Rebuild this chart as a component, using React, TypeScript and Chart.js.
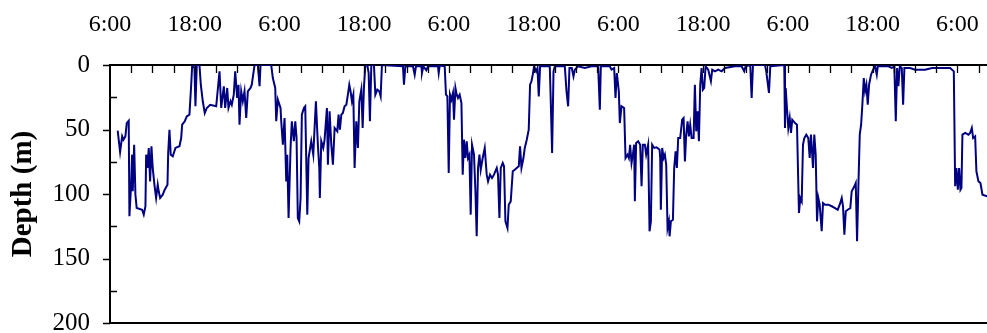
import React, { useEffect, useRef } from "react";
import { Chart, registerables } from "chart.js";

Chart.register(...registerables);

// elapsed hours since 6:00 on day 1
const timeHours: number[] = [
  1.09, 1.43, 1.72, 1.90, 2.18, 2.37, 2.65, 2.75, 2.99, 3.13,
  3.22, 3.42, 3.60, 3.78, 4.55, 4.78, 5.02, 5.12, 5.30, 5.49,
  5.68, 5.87, 6.05, 6.29, 6.53, 6.76, 6.90, 7.10, 7.47, 7.75,
  8.14, 8.24, 8.42, 8.60, 8.89, 9.27, 9.84, 10.08, 10.22, 10.59,
  10.87, 11.25, 11.50, 11.64, 11.96, 12.10, 12.29, 12.67, 12.86, 13.14,
  13.42, 13.71, 14.19, 15.04,
  15.51, 15.75, 16.12, 16.31, 16.60, 16.78, 17.07, 17.25, 17.53, 17.73,
  18.01, 18.20, 18.34, 18.58, 18.81, 19.05, 19.29, 19.52, 19.90, 20.08,
  20.28, 20.47, 20.94, 21.18, 21.32, 22.83, 23.06, 23.40, 23.54, 23.77,
  24.15, 24.25, 24.48, 24.72, 24.96, 25.10, 25.29, 25.57, 25.75, 26.04,
  26.24, 26.42, 26.60, 26.80, 26.99, 27.17, 27.46, 27.65, 27.94, 28.12,
  28.50, 28.79, 29.16, 29.44, 29.64, 29.72, 29.92, 30.20, 30.39,
  30.72, 30.86, 31.10, 31.34, 31.57, 31.81, 32.19, 32.37, 32.56, 32.76,
  32.98, 33.22, 33.47, 33.69, 33.89, 34.07, 34.26, 34.46, 34.64, 34.88,
  35.11, 35.31, 35.59, 35.78, 35.96, 36.16, 36.44, 36.63, 36.81, 37.01,
  37.38, 37.58, 37.86, 38.14, 38.33, 38.51, 41.49, 41.63, 41.83, 42.91,
  43.15, 43.33, 44.10, 44.18, 44.38, 44.80, 45.03, 46.45, 46.55, 46.69,
  47.40, 47.58, 47.78, 47.97, 48.15, 48.35, 48.57, 48.72, 48.92, 49.10,
  49.28, 49.52, 49.77, 49.95, 50.13, 50.33, 50.52, 50.70, 50.90, 51.08,
  51.27, 51.55, 51.75, 51.93, 52.12, 52.32, 52.50, 52.78, 53.07, 53.35,
  53.54, 53.82, 54.10, 54.38, 54.77, 54.95, 55.15, 55.34, 55.62, 55.80,
  56.00, 56.29, 56.47, 56.75, 57.04, 57.32, 57.60, 57.89, 58.07, 58.27,
  58.55, 58.74, 59.02, 59.30, 59.49, 59.69, 59.87, 60.06, 60.34, 60.54,
  60.72, 60.91, 62.28, 62.42, 62.61, 62.81, 62.99, 64.41, 64.65, 64.88,
  65.07, 65.40, 65.64, 65.83, 66.29, 67.24, 68.19, 69.13, 69.37, 69.51,
  70.78, 71.03, 71.40, 71.59, 71.78, 72.06, 72.20, 72.44, 72.81, 73.01,
  73.29, 73.48, 73.66, 73.86, 74.05, 74.23, 74.33, 74.51, 74.80, 75.08,
  75.28, 75.46, 75.75, 75.93, 76.21, 76.41, 76.60, 76.78, 77.07, 77.40, 77.83,
  77.92, 78.01, 78.20, 78.40, 78.58, 78.77, 78.96, 79.15, 79.25, 79.43,
  79.72, 79.90, 80.10, 80.28, 80.47, 80.75, 81.03, 81.23, 81.42, 81.60,
  81.80, 81.98, 82.17, 82.37, 82.65, 82.83, 83.02, 83.22, 83.40, 83.59,
  83.78, 83.97, 84.15, 84.35, 84.72, 85.10, 85.29, 85.67, 86.14, 86.62,
  87.09, 88.50, 89.45, 89.82, 90.02, 90.67, 90.87, 91.06, 92.76, 92.94, 93.32, 93.51,
  95.49, 95.59, 95.69, 95.87, 96.06, 96.26, 96.44, 96.62, 97.01, 97.29,
  97.57, 97.76, 97.96, 98.14, 98.33, 98.61, 98.89, 99.09, 99.27, 99.56,
  99.74, 99.94, 100.13, 100.31, 100.51, 100.79, 100.98, 101.26, 101.73, 102.21,
  102.68, 103.06, 103.34, 103.63, 103.81, 104.00, 104.20, 104.48, 104.84, 105.04,
  105.42, 105.61, 105.80, 105.98, 106.18, 106.37, 106.55, 106.75, 106.93, 107.12,
  107.31, 107.50, 107.78, 108.07, 108.35, 108.59, 108.73, 110.23, 110.71, 111.08,
  111.28, 111.47, 111.65, 111.85, 112.13, 112.32, 112.50, 113.31, 114.02, 115.43,
  116.43, 117.56, 118.98, 119.50, 119.69, 119.87, 120.07, 120.25, 120.44, 120.58,
  120.72, 121.11, 121.57, 121.81, 122.05, 122.24, 122.52, 122.70, 122.99, 123.27, 123.56, 124.22,
];

// depth in metres
const depthM: number[] = [
  50.9, 67.4, 55.3, 57.9, 55.3, 45.0, 43.2, 117.3, 92.8, 69.5,
  97.9, 61.8, 100.5, 110.9, 112.2, 116.0, 109.5, 69.5, 79.8, 64.3,
  90.2, 63.0, 79.8, 92.8, 103.1, 92.8, 97.9, 103.1, 100.5, 96.7,
  92.8, 68.2, 50.2, 69.5, 70.8, 64.3, 63.0, 56.6, 46.3, 43.6,
  39.8, 38.5, 15.3, 0, 2.3, 32.0, 0, 0, 15.3, 28.1,
  37.2, 33.3, 30.8, 32.0,
  4.9, 33.3, 16.5, 33.3, 17.8, 33.3, 28.1, 30.8, 23.0, 4.9,
  25.6, 15.3, 46.3, 20.4, 28.1, 20.4, 41.1, 20.4, 17.8, 15.3,
  7.5, 0, 0, 16.5, 0, 0, 10.1, 17.8, 43.6, 26.9,
  33.3, 43.6, 61.8, 41.1, 90.2, 69.5, 118.6, 64.3, 43.6, 59.1,
  43.6, 56.6, 118.6, 121.2, 103.1, 38.5, 33.3, 32.0, 116.0, 72.1,
  59.1, 69.5, 28.1, 61.8, 79.8, 103.1, 59.1, 64.3, 57.9,
  33.3, 77.3, 35.9, 61.8, 77.3, 48.8, 51.4, 38.5, 50.2, 38.5,
  37.2, 32.0, 30.8, 23.0, 15.3, 20.4, 28.1, 23.0, 79.8, 43.6,
  64.3, 28.1, 19.1, 48.8, 17.8, 0, 0, 6.2, 43.6, 0,
  0, 23.0, 19.1, 20.4, 24.3, 0, 1.0, 15.3, 1.0, 1.0,
  7.5, 1.0, 1.0, 6.2, 1.0, 4.1, 1.0, 1.0, 6.2, 0.4,
  1.0, 23.0, 24.3, 83.7, 23.0, 26.9, 21.7, 42.4, 17.8, 23.0,
  25.6, 23.0, 29.5, 85.0, 57.9, 72.1, 59.1, 72.1, 69.5, 116.0,
  61.8, 69.5, 97.9, 132.8, 79.8, 69.5, 81.2, 72.1, 64.3, 85.0,
  90.2, 85.0, 87.6, 85.0, 79.8, 85.0, 118.6, 79.8, 76.0, 78.5,
  121.2, 126.4, 108.3, 105.7, 82.4, 81.2, 79.8, 78.5, 63.0, 79.8,
  72.1, 64.3, 57.9, 50.2, 15.3, 12.6, 7.5, 1.0, 4.9, 2.3,
  24.3, 1.0, 1.0, 28.1, 68.2, 4.9, 1.0, 1.0, 20.4, 32.0,
  2.3, 2.3, 8.8, 3.6, 1.0, 2.3, 1.0, 1.0, 34.7, 1.0,
  1.0, 3.6, 2.3, 25.6, 6.2, 20.4, 45.0, 32.0, 33.3, 72.1,
  69.5, 72.1, 61.8, 76.0, 69.5, 61.8, 105.7, 60.5, 59.1, 61.8,
  94.0, 61.8, 61.8, 69.5, 61.8, 128.9, 121.2, 61.8, 64.3, 63.8, 65.7,
  72.1, 112.2, 64.3, 72.1, 69.5, 77.3, 126.4, 121.2, 132.8, 121.2,
  119.9, 79.8, 66.9, 79.8, 56.6, 56.6, 42.4, 41.1, 74.7, 54.0,
  43.6, 55.3, 46.3, 56.6, 56.6, 15.3, 51.4, 35.9, 59.1, 15.3,
  2.3, 19.1, 17.8, 1.0, 3.6, 12.6, 3.6, 4.9, 3.6, 4.9,
  2.3, 1.0, 1.0, 4.9, 1.0, 0, 25.6, 0, 0, 4.9, 21.7, 1.0,
  0, 48.8, 17.8, 33.3, 48.8, 41.1, 52.7, 42.4, 45.0, 46.3,
  114.7, 103.1, 105.7, 61.8, 56.6, 54.0, 56.6, 72.1, 54.0, 79.8,
  54.0, 69.5, 121.2, 103.1, 108.3, 128.9, 107.0, 108.3, 108.3, 109.5,
  110.9, 112.2, 108.3, 103.1, 109.5, 131.6, 113.4, 112.2, 110.9, 97.9,
  94.0, 91.5, 136.7, 95.3, 54.0, 46.3, 30.8, 10.1, 20.4, 15.3,
  30.8, 15.3, 7.5, 3.6, 1.0, 7.5, 1.0, 1.0, 2.3, 1.0,
  43.6, 2.3, 16.5, 1.0, 2.3, 30.8, 2.3, 2.3, 3.6, 3.6,
  2.3, 2.3, 2.3, 4.9, 94.0, 79.8, 96.7, 79.8, 96.7, 95.3,
  54.0, 52.7, 54.0, 52.7, 48.8, 56.6, 55.3, 82.4, 90.2, 91.5, 100.5, 101.8,
];

const clockLabels: string[] = ["6:00", "18:00"];
const xRange: number[] = [0, 124.2];
const yRange: number[] = [0, 200];
const yLabelStep = 50;
const yTickStep = 25;
const xTickStep = 3;
const xLabelStep = 12;

const FONT = "'Liberation Serif', 'Times New Roman', Times, serif";

const axisTicksPlugin = {
  id: "axisTicks",
  afterDraw(chart: any) {
    const { ctx, chartArea, scales } = chart;
    const xs = scales.x;
    const ys = scales.y;
    ctx.save();
    ctx.strokeStyle = "#000";
    ctx.lineWidth = 1.3;
    ctx.beginPath();
    xs.ticks.forEach((t: any) => {
      const r = Math.round(t.value);
      if (t.value > 0 && Math.abs(t.value - r) < 1e-6 && r % xTickStep === 0) {
        const px = Math.round(xs.getPixelForValue(t.value)) + 0.5;
        ctx.moveTo(px, chartArea.top);
        ctx.lineTo(px, chartArea.top + 8);
      }
    });
    ys.ticks.forEach((t: any) => {
      const py = Math.round(ys.getPixelForValue(t.value)) + 0.5;
      if (Math.round(t.value) % yLabelStep === 0) {
        ctx.moveTo(chartArea.left - 7, py);
        ctx.lineTo(chartArea.left, py);
      } else {
        ctx.moveTo(chartArea.left, py);
        ctx.lineTo(chartArea.left + 7, py);
      }
    });
    ctx.stroke();
    ctx.lineWidth = 2;
    ctx.beginPath();
    ctx.moveTo(chartArea.left - 1, chartArea.bottom);
    ctx.lineTo(chartArea.right, chartArea.bottom);
    ctx.stroke();
    ctx.restore();
  },
};

export default function App() {
  const ref = useRef<HTMLCanvasElement | null>(null);

  useEffect(() => {
    document.body.style.margin = "0";
    document.body.style.overflow = "hidden";
    if (!ref.current) return;
    const points = timeHours.map((t, i) => ({ x: t, y: depthM[i] }));
    const chart = new Chart(ref.current, {
      type: "line",
      data: {
        datasets: [
          {
            label: "Depth",
            data: points,
            borderColor: "#000080",
            borderWidth: 2,
            pointRadius: 0,
            tension: 0,
            fill: false,
          },
        ],
      },
      options: {
        animation: false,
        responsive: false,
        maintainAspectRatio: false,
        layout: { padding: { top: 11, left: 0, right: 0, bottom: 10 } },
        plugins: { legend: { display: false }, tooltip: { enabled: false } },
        scales: {
          x: {
            type: "linear",
            position: "top",
            min: xRange[0],
            max: xRange[1],
            grid: { display: true, drawOnChartArea: false, drawTicks: false },
            border: { display: true, color: "#000", width: 2 },
            afterFit: (s: any) => {
              s.height = 54;
              s.paddingLeft = 0;
              s.paddingRight = 0;
            },
            ticks: {
              stepSize: xTickStep,
              includeBounds: false,
              autoSkip: false,
              maxTicksLimit: 200,
              maxRotation: 0,
              padding: 26,
              color: "#000",
              font: { family: FONT, size: 24 },
              callback: (v: any) => {
                const n = Math.round(Number(v));
                if (Math.abs(Number(v) - n) > 1e-6 || n % xLabelStep !== 0) return "";
                return clockLabels[(n / xLabelStep) % 2];
              },
            },
          },
          y: {
            type: "linear",
            reverse: true,
            min: yRange[0],
            max: yRange[1],
            grid: { display: true, drawOnChartArea: false, drawTicks: false },
            border: { display: true, color: "#000", width: 2 },
            afterFit: (s: any) => {
              s.width = 110;
              s.paddingTop = 0;
              s.paddingBottom = 0;
            },
            ticks: {
              stepSize: yTickStep,
              autoSkip: false,
              padding: 20,
              color: "#000",
              font: { family: FONT, size: 25, lineHeight: 0.8 },
              callback: (v: any) => (Math.round(Number(v)) % yLabelStep === 0 ? String(v) : ""),
            },
            title: {
              display: true,
              text: "Depth (m)",
              color: "#000",
              padding: { top: 6, bottom: 10 },
              font: { family: FONT, size: 29, weight: "bold" },
            },
          },
        },
      },
      plugins: [axisTicksPlugin],
    });
    return () => chart.destroy();
  }, []);

  return (
    <canvas
      ref={ref}
      width={987}
      height={333}
      style={{ display: "block", width: 987, height: 333 }}
    />
  );
}
